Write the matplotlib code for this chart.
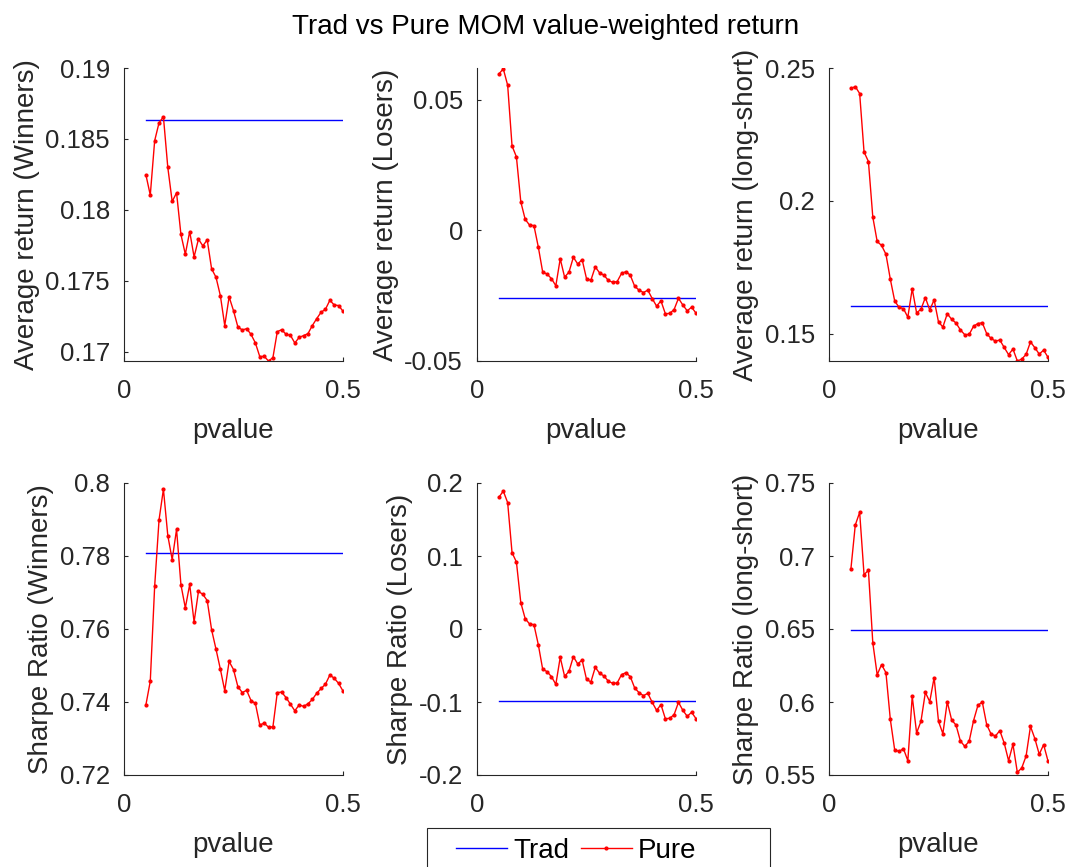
import numpy as np
import matplotlib
matplotlib.use('Agg')
import matplotlib.pyplot as plt
from matplotlib.patches import Rectangle

plt.rcParams['font.family'] = ['Liberation Sans', 'DejaVu Sans']

# pvalue grid
pvalue = np.round(np.arange(0.05, 0.5001, 0.01), 2)

# Average return (Winners)
pure_win_ret = [0.18247, 0.18104, 0.18487, 0.18614, 0.18656, 0.18299, 0.18059, 0.1812,
                0.17826, 0.17687, 0.17847, 0.17668, 0.17793, 0.17746, 0.17788, 0.17584,
                0.17525, 0.17395, 0.17184, 0.17386, 0.17289, 0.17174, 0.17153, 0.17162,
                0.17122, 0.17061, 0.16965, 0.16967, 0.16934, 0.16958, 0.17141, 0.17155,
                0.17122, 0.17115, 0.17061, 0.17101, 0.17113, 0.17127, 0.17184, 0.17233,
                0.17278, 0.17299, 0.17362, 0.17329, 0.17325, 0.17285]
trad_win_ret = 0.18635

# Average return (Losers)
pure_los_ret = [0.0598, 0.0618, 0.0555, 0.0323, 0.0281, 0.0109, 0.0042, 0.0020, 0.0018,
                -0.0064, -0.0160, -0.0167, -0.0185, -0.0212, -0.0109, -0.0179, -0.0160,
                -0.0103, -0.0129, -0.0112, -0.0185, -0.0191, -0.0140, -0.0163, -0.0172,
                -0.0192, -0.0199, -0.0196, -0.0165, -0.0158, -0.0172, -0.0214, -0.0229,
                -0.0238, -0.0229, -0.0261, -0.0290, -0.0270, -0.0319, -0.0318, -0.0303,
                -0.0260, -0.0286, -0.0308, -0.0294, -0.0317]
trad_los_ret = -0.02596

# Average return (long-short)
pure_ls_ret = [0.2423, 0.2430, 0.2404, 0.2184, 0.2148, 0.1939, 0.1847, 0.1832, 0.1799,
               0.1705, 0.1623, 0.1599, 0.1594, 0.1562, 0.1669, 0.1578, 0.1592, 0.1636,
               0.1589, 0.1627, 0.1544, 0.1525, 0.1575, 0.1554, 0.1540, 0.1514, 0.1496,
               0.1497, 0.1528, 0.1538, 0.1541, 0.1500, 0.1482, 0.1472, 0.1476, 0.1448,
               0.1421, 0.1442, 0.1397, 0.1404, 0.1422, 0.1469, 0.1447, 0.1423, 0.1438,
               0.1411]
trad_ls_ret = 0.1603

# Sharpe Ratio (Winners)
pure_win_sr = [0.7392, 0.7457, 0.7717, 0.7899, 0.7983, 0.7856, 0.7790, 0.7873, 0.7721,
               0.7658, 0.7722, 0.7619, 0.7703, 0.7695, 0.7678, 0.7598, 0.7545, 0.7490,
               0.7431, 0.7511, 0.7489, 0.7442, 0.7426, 0.7432, 0.7404, 0.7396, 0.7337,
               0.7342, 0.7331, 0.7332, 0.7426, 0.7427, 0.7412, 0.7394, 0.7376, 0.7392,
               0.7388, 0.7395, 0.7407, 0.7424, 0.7437, 0.7449, 0.7474, 0.7465, 0.7451,
               0.7430]
trad_win_sr = 0.7809

# Sharpe Ratio (Losers)
pure_los_sr = [0.1804, 0.1890, 0.1731, 0.1046, 0.0918, 0.0361, 0.0142, 0.0069, 0.0059,
               -0.0215, -0.0552, -0.0584, -0.0653, -0.0758, -0.0388, -0.0648, -0.0580,
               -0.0379, -0.0479, -0.0425, -0.0689, -0.0726, -0.0525, -0.0607, -0.0644,
               -0.0717, -0.0744, -0.0740, -0.0625, -0.0598, -0.0653, -0.0808, -0.0872,
               -0.0913, -0.0881, -0.1004, -0.1114, -0.1036, -0.1228, -0.1224, -0.1173,
               -0.1004, -0.1114, -0.1196, -0.1141, -0.1228]
trad_los_sr = -0.0982

# Sharpe Ratio (long-short)
pure_ls_sr = [0.6911, 0.7212, 0.7299, 0.6872, 0.6902, 0.6406, 0.6187, 0.6256, 0.6201,
              0.5881, 0.5671, 0.5662, 0.5680, 0.5598, 0.6039, 0.5788, 0.5868, 0.6066,
              0.6002, 0.6167, 0.5868, 0.5783, 0.6002, 0.5877, 0.5842, 0.5733, 0.5696,
              0.5731, 0.5872, 0.5977, 0.6000, 0.5845, 0.5781, 0.5767, 0.5804, 0.5719,
              0.5598, 0.5710, 0.5518, 0.5548, 0.5630, 0.5833, 0.5749, 0.5642, 0.5708,
              0.5596]
trad_ls_sr = 0.6493

ylabels = ['Average return (Winners)', 'Average return (Losers)', 'Average return (long-short)',
           'Sharpe Ratio (Winners)', 'Sharpe Ratio (Losers)', 'Sharpe Ratio (long-short)']
pure_series = [pure_win_ret, pure_los_ret, pure_ls_ret, pure_win_sr, pure_los_sr, pure_ls_sr]
trad_values = [trad_win_ret, trad_los_ret, trad_ls_ret, trad_win_sr, trad_los_sr, trad_ls_sr]
yticks = [[0.17, 0.175, 0.18, 0.185, 0.19], [-0.05, 0, 0.05], [0.15, 0.2, 0.25],
          [0.72, 0.74, 0.76, 0.78, 0.8], [-0.2, -0.1, 0, 0.1, 0.2], [0.55, 0.6, 0.65, 0.7, 0.75]]
yticklabels = [['0.17', '0.175', '0.18', '0.185', '0.19'], ['-0.05', '0', '0.05'],
               ['0.15', '0.2', '0.25'], ['0.72', '0.74', '0.76', '0.78', '0.8'],
               ['-0.2', '-0.1', '0', '0.1', '0.2'], ['0.55', '0.6', '0.65', '0.7', '0.75']]
ylims = [(min(pure_win_ret), 0.19), (-0.05, max(pure_los_ret) + 0.0003),
         (min(pure_ls_ret), 0.25), (0.72, 0.8), (-0.2, 0.2), (0.55, 0.75)]

W, H = 1070, 867
fig = plt.figure(figsize=(W / 100, H / 100), dpi=100)

lefts = [124, 477, 829]
rows = [(68, 361), (483, 775)]
axw = 219
fs = 18.5
lfs = 20
axcol = '#262626'

handles = None
for i in range(6):
    r, c = divmod(i, 3)
    top, bot = rows[r]
    ax = fig.add_axes([lefts[c] / W, 1 - bot / H, axw / W, (bot - top) / H])
    x = pvalue
    ht, = ax.plot([x[0], x[-1]], [trad_values[i]] * 2, color='blue', lw=1.0)
    hp, = ax.plot(x, pure_series[i], color='red', lw=1.0, marker='.', markersize=4)
    handles = [ht, hp]
    ax.set_xlim(0, 0.5)
    ax.set_ylim(*ylims[i])
    ax.set_xticks([0, 0.5])
    ax.set_xticklabels(['0', '0.5'])
    ax.set_yticks(yticks[i])
    ax.set_yticklabels(yticklabels[i])
    ax.tick_params(direction='in', length=3, width=0.8, colors=axcol, labelsize=fs,
                   labelcolor=axcol)
    ax.tick_params(axis='x', pad=13)
    ax.tick_params(axis='y', pad=10)
    for s in ['top', 'right']:
        ax.spines[s].set_visible(False)
    for s in ['left', 'bottom']:
        ax.spines[s].set_color(axcol)
        ax.spines[s].set_linewidth(0.8)
    # the middle bottom xlabel sits under the legend box in the original
    if i != 4:
        ax.set_xlabel('pvalue', fontsize=lfs, color=axcol, labelpad=10.5)
    ax.set_ylabel(ylabels[i], fontsize=lfs, color=axcol, labelpad=4)

fig.suptitle('Trad vs Pure MOM value-weighted return', fontsize=20, x=546 / W, y=1 - 27 / H,
             va='center')

# legend box (cut off at bottom in the original), drawn above the axes
box = Rectangle((427 / W, -0.02), (770 - 427) / W, 0.02 + 1 - 828 / H,
                transform=fig.transFigure, facecolor='white', edgecolor='#262626', lw=0.8,
                zorder=10)
fig.add_artist(box)
leg = fig.legend(handles, ['Trad', 'Pure'], loc='center left',
                 bbox_to_anchor=(456 / W, 1 - 851 / H), ncol=2, frameon=False, fontsize=lfs,
                 handlelength=1.83, handletextpad=0.22, columnspacing=0.43, borderpad=0,
                 borderaxespad=0)
leg.set_zorder(11)

fig.savefig('out.png', dpi=100)
